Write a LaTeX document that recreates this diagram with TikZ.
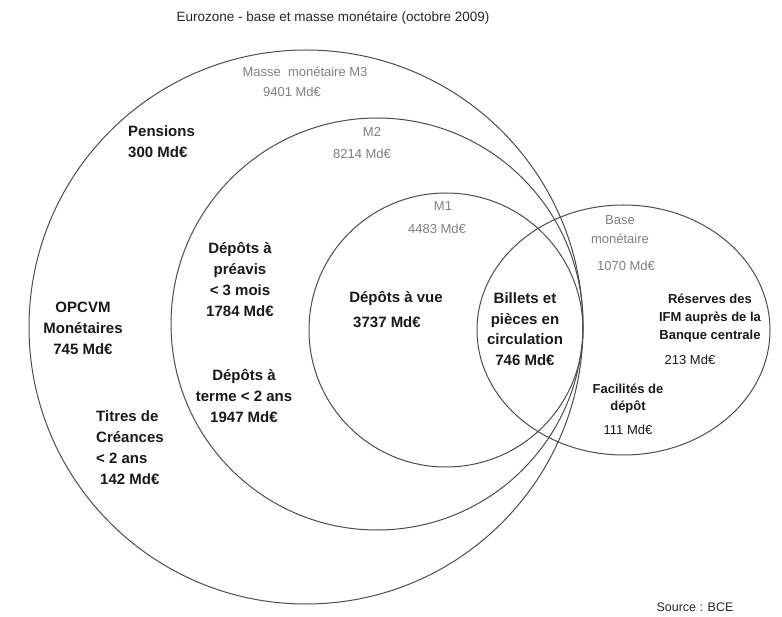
\documentclass[tikz,border=0pt]{standalone}
\usepackage{fontspec}
\setmainfont{Liberation Sans}
\begin{document}
\begin{tikzpicture}[x=1pt,y=-1pt,
  ring/.style={draw=black!70,line width=1pt},
  lbl/.style={font=\bfseries\fontsize{15}{21}\selectfont,text=black!90,align=center,inner sep=0pt},
  slbl/.style={font=\bfseries\fontsize{13}{18}\selectfont,text=black!90,align=center,inner sep=0pt},
  snum/.style={font=\fontsize{13}{18}\selectfont,text=black!90,inner sep=0pt},
  glbl/.style={font=\fontsize{13}{19}\selectfont,text=black!50,align=center,inner sep=0pt}]
\useasboundingbox (0,0) rectangle (782,617);
% circles
\draw[ring] (306,327) circle[radius=277];
\draw[ring] (377,324) circle[radius=206];
\draw[ring] (446,330) circle[radius=137];
\draw[ring] (623.5,330) ellipse[x radius=146.5,y radius=125];
% title
\node[font=\fontsize{13.5}{16}\selectfont,text=black!85,inner sep=0pt] (title) at (333,18) {Eurozone - base et masse monétaire (octobre 2009)};
% M3
\node[glbl] (m3) at (305,72) {Masse\ \ monétaire M3};
\node[glbl] (m3v) at (292,92) {9401 Md€};
% M2
\node[glbl] (m2) at (372,132) {M2};
\node[glbl] (m2v) at (362,154) {8214 Md€};
% M1
\node[glbl] (m1) at (443,206) {M1};
\node[glbl] (m1v) at (437,229) {4483 Md€};
% Base
\node[glbl] (base) at (620,229.5) {Base\\monétaire};
\node[glbl] (basev) at (626,266) {1070 Md€};
% Pensions
\node[lbl,align=left,anchor=west] (pens) at (128,142) {Pensions\\300 Md€};
% OPCVM
\node[lbl] (opc) at (83,328) {OPCVM\\Monétaires\\745 Md€};
% Titres
\node[lbl,align=left,anchor=west] (titres) at (96,448) {Titres de\\Créances\\< 2 ans\\\hspace{4pt}142 Md€};
% Depots preavis
\node[lbl] (prea) at (240,279) {Dépôts à\\préavis\\< 3 mois\\1784 Md€};
% Depots terme
\node[lbl] (terme) at (244,396) {Dépôts à\\terme < 2 ans\\1947 Md€};
% Depots a vue
\node[lbl] (vue) at (396,298) {Dépôts à vue};
\node[lbl] (vuev) at (387,322) {3737 Md€};
% Billets
\node[lbl,font=\bfseries\fontsize{15}{20.7}\selectfont] (bill) at (525,329) {Billets et\\pièces en\\circulation\\746 Md€};
% Reserves
\node[slbl] (res) at (710,318) {Réserves des\\IFM auprès de la\\Banque centrale};
\node[snum] (resv) at (690,360) {213 Md€};
% Facilites
\node[slbl,font=\bfseries\fontsize{13}{17}\selectfont] (fac) at (628,398.5) {Facilités de\\dépôt};
\node[snum] (facv) at (628,430) {111 Md€};
% Source
\node[font=\fontsize{12.5}{15}\selectfont,text=black!85,inner sep=0pt] (src) at (695,607) {Source : BCE};
\end{tikzpicture}
\end{document}
